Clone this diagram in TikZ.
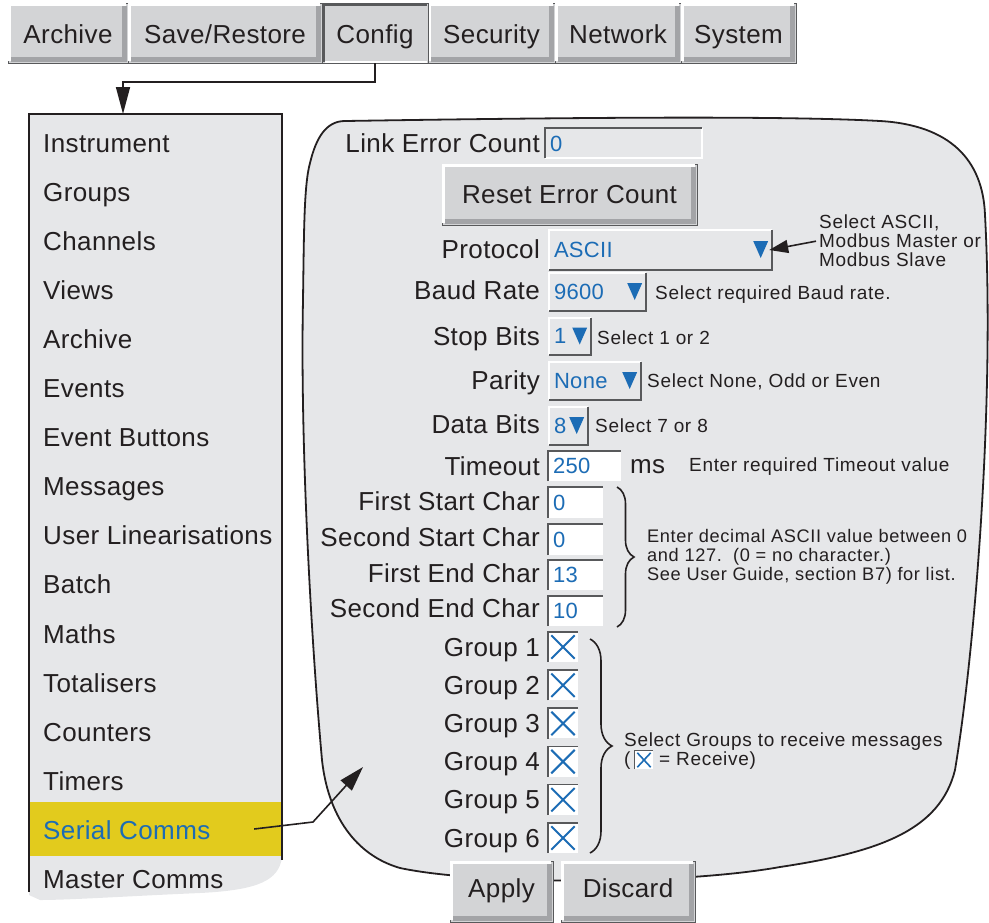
\documentclass[tikz,border=0pt]{standalone}
\usepackage{fontspec}
\setmainfont[LetterSpace=1.5]{Liberation Sans}
\newfontfamily\notefont[LetterSpace=3.5]{Liberation Sans}
\usetikzlibrary{positioning,calc,arrows.meta,decorations.pathreplacing}

\definecolor{panelgrey}{HTML}{E6E7E9}
\definecolor{tabgrey}{HTML}{D3D4D6}
\definecolor{shadegrey}{HTML}{A3A4A7}
\definecolor{edgegrey}{HTML}{58595B}
\definecolor{ink}{HTML}{231F20}
\definecolor{valblue}{HTML}{1C6CB5}
\definecolor{selyellow}{HTML}{E2CB1D}

\begin{document}
\begin{tikzpicture}
    [
    x=1pt, y=-1pt,
    bigtxt/.style={font=\fontsize{26}{30}\selectfont, text=ink, inner sep=0pt},
    valtxt/.style={font=\fontsize{22}{26}\selectfont, text=valblue, inner sep=0pt, anchor=base west},
    notetxt/.style={font=\notefont\fontsize{19}{19}\selectfont, text=ink, inner sep=0pt,
      anchor=base west, align=left},
    raised/.style={draw=edgegrey, line width=0.8pt, fill=tabgrey, inner sep=0pt,
      font=\fontsize{26}{30}\selectfont, text=ink, text height=20pt, text depth=0pt},
    hilite/.style={white, line width=3pt},
    lowlite/.style={shadegrey, line width=5pt},
    dropbox/.style={fill=panelgrey, inner sep=0pt},
    entrybox/.style={fill=white, inner sep=0pt},
    crossmark/.style={valblue, line width=2pt},
    pointer/.style={ink, line width=1.6pt},
    curly/.style={ink, line width=1.6pt, decorate, decoration={brace, amplitude=#1}}
    ]
    \useasboundingbox (0,0) rectangle (989,922);

    % Tabs along the top
    \foreach \n/\xa/\xb/\txt in {tArchive/8/128/Archive, tSave/128/322/{Save/Restore},
        tSecurity/428/555/Security, tNetwork/555/681/Network, tSystem/681/796/System} {
      \node[raised, minimum width={(\xb-\xa)*1pt}, minimum height=60pt] (\n) at ({(\xa+\xb)/2}, 33) {\txt};
      \draw[hilite] ([shift={(2,-2)}]\n.south west) |- ([shift={(-2,2)}]\n.north east);
      \draw[lowlite] ([shift={(3.5,-3.5)}]\n.south west) -| ([shift={(-3.5,3.5)}]\n.north east);
    }
    % the pressed tab
    \node[raised, minimum width=106pt, minimum height=60pt] (tConfig) at (375,33) {Config};
    \draw[edgegrey, line width=3pt] ([shift={(1.5,-1.5)}]tConfig.south west) |- ([shift={(-1,1.5)}]tConfig.north east);
    \draw[white, line width=2pt] ([shift={(3,-1.5)}]tConfig.south west) -- ([shift={(-1,-1.5)}]tConfig.south east);

    % Panel outline
    \draw[ink, line width=1.8pt, fill=panelgrey]
      (345,121) .. controls (600,117) and (790,116) .. (880,121)
      .. controls (950,125) and (983,160) .. (985,215)
      .. controls (995,400) and (975,650) .. (955,770)
      .. controls (940,830) and (880,852) .. (780,867)
      .. controls (680,885) and (480,885) .. (400,868)
      .. controls (355,855) and (328,815) .. (322,760)
      .. controls (312,650) and (300,450) .. (303,300)
      .. controls (304,230) and (304,185) .. (310,163)
      .. controls (316,138) and (326,121) .. (345,121) -- cycle;

    % Menu on the left
    \fill[panelgrey] (29,114) -- (282,114) -- (282,858)
      .. controls (278,880) and (260,890) .. (200,893)
      .. controls (130,896) and (70,900) .. (40,900) -- (29,895) -- cycle;
    \node[fill=selyellow, minimum width=251pt, minimum height=54pt, inner sep=0pt] (mSel) at (155.5,829) {};
    \draw[ink, line width=2pt] (29,892) -- (29,114) -- (282,114) -- (282,860);
    \coordinate (menuTop) at (123,114);
    \foreach \txt/\col [count=\i] in {Instrument/ink, Groups/ink, Channels/ink, Views/ink, Archive/ink,
        Events/ink, Event Buttons/ink, Messages/ink, User Linearisations/ink, Batch/ink, Maths/ink,
        Totalisers/ink, Counters/ink, Timers/ink, Serial Comms/valblue, Master Comms/ink} {
      \node[bigtxt, text=\col, anchor=base west] (m\i) at (43, {152+(\i-1)*49.1}) {\txt};
    }

    % Config tab opens the menu
    \coordinate (cBend) at (375,82);
    \draw[pointer, -{Triangle[length=27pt, width=14pt]}] (tConfig.south) -- (cBend) -| (menuTop);

    % Labels of the panel
    \foreach \n/\y/\txt in {lLink/152/Link Error Count, lProto/258/Protocol, lBaud/299/Baud Rate,
        lStop/345/Stop Bits, lParity/389/Parity, lData/433/Data Bits, lTime/475/Timeout,
        lFSC/510/First Start Char, lSSC/546/Second Start Char, lFEC/582/First End Char,
        lSEC/617/Second End Char} {
      \node[bigtxt, anchor=base east] (\n) at (540,\y) {\txt};
    }

    % Link error count field and reset button
    \node[dropbox, minimum width=157pt, minimum height=30pt] (fLink) at (623.5,143) {};
    \draw[white, line width=1.5pt] (fLink.south west) -| (fLink.north east);
    \draw[edgegrey, line width=1.5pt] (fLink.south west) |- (fLink.north east);
    \node[valtxt] (vLink) at ($(fLink.west)+(5,8)$) {0};

    \node[raised, minimum width=255pt, minimum height=61pt, text depth=3pt] (bReset) at (569.5,194.5) {Reset Error Count};
    \draw[hilite] ([shift={(2,-2)}]bReset.south west) |- ([shift={(-2,2)}]bReset.north east);
    \draw[lowlite] ([shift={(3.5,-3.5)}]bReset.south west) -| ([shift={(-3.5,3.5)}]bReset.north east);

    % Drop down fields
    \foreach \n/\xa/\ya/\xb/\yb/\val in {fProto/549/230/772/270/ASCII, fBaud/549/273/646/311/9600,
        fStop/549/318/591/355/1, fParity/549/362/641/400/None, fData/549/407/588/445/8} {
      \node[dropbox, minimum width={(\xb-\xa)*1pt}, minimum height={(\yb-\ya)*1pt}] (\n)
        at ({(\xa+\xb)/2}, {(\ya+\yb)/2}) {};
      \draw[white, line width=2pt] (\n.south west) |- (\n.north east);
      \draw[edgegrey, line width=1.5pt] (\n.south west) -| (\n.north east);
      \node[valtxt] (v\n) at ($(\n.west)+(5,7)$) {\val};
      \fill[valblue] ($(\n.east)+(-19,-9)$) -- ++(15,0) -- ++(-7.5,17) -- cycle;
    }

    % Entry fields
    \foreach \n/\xa/\ya/\xb/\yb/\val in {fTime/548/451/621/481/250, fFSC/548/487/603/518/0,
        fSSC/548/524/603/555/0, fFEC/548/560/603/590/13, fSEC/548/596/603/626/10} {
      \node[entrybox, minimum width={(\xb-\xa)*1pt}, minimum height={(\yb-\ya)*1pt}] (\n)
        at ({(\xa+\xb)/2}, {(\ya+\yb)/2}) {};
      \draw[edgegrey, line width=1.5pt] (\n.south west) |- (\n.north east);
      \node[valtxt] (v\n) at ($(\n.west)+(5,7.5)$) {\val};
    }
    \node[bigtxt, anchor=base west] (ms) at (630,473) {ms};

    % Group check boxes
    \foreach \i in {1,...,6} {
      \node[bigtxt, anchor=base east] (lG\i) at (540, {656+(\i-1)*38.2}) {Group \i};
      \node[entrybox, minimum width=30pt, minimum height=30pt] (cG\i) at (563, {647+(\i-1)*38.2}) {};
      \draw[edgegrey, line width=1.5pt] (cG\i.south west) |- (cG\i.north east);
      \draw[crossmark] ([shift={(3.5,-3.5)}]cG\i.south west) -- ([shift={(-3.5,3.5)}]cG\i.north east);
      \draw[crossmark] ([shift={(3.5,3.5)}]cG\i.north west) -- ([shift={(-3.5,-3.5)}]cG\i.south east);
    }

    % Notes
    \node[notetxt, anchor=north west] (nProto) at (819,215) {Select ASCII,\\Modbus Master or\\Modbus Slave};
    \node[notetxt] (nBaud) at (655,299) {Select required Baud rate.};
    \node[notetxt] (nStop) at (597,344) {Select 1 or 2};
    \node[notetxt] (nParity) at (647,387) {Select None, Odd or Even};
    \node[notetxt] (nData) at (595,432) {Select 7 or 8};
    \node[notetxt] (nTime) at (689,471) {Enter required Timeout value};
    \node[notetxt, anchor=north west, font=\notefont\fontsize{18.2}{19}\selectfont] (nChar) at (647,529)
      {Enter decimal ASCII value between 0\\and 127.\ \ (0 = no character.)\\See User Guide, section B7) for list.};
    \node[notetxt] (nGroup) at (624,746) {Select Groups to receive messages};
    \node[notetxt] (rOpen) at (624,765) {(};
    \node[entrybox, minimum width=18pt, minimum height=18pt] (rBox) at (643.5,760) {};
    \draw[edgegrey, line width=1.2pt] (rBox.south west) |- (rBox.north east);
    \draw[crossmark, line width=1.6pt] ([shift={(3,-2)}]rBox.south west) -- ([shift={(-2,2)}]rBox.north east);
    \draw[crossmark, line width=1.6pt] ([shift={(3,2)}]rBox.north west) -- ([shift={(-2,-2)}]rBox.south east);
    \node[notetxt] (rText) at (659,765) {= Receive)};

    % Braces
    \draw[curly=17pt] (617,487) -- (617,627);
    \draw[curly=22pt] (590,639) -- (590,853);

    % Arrows to the panel
    \draw[pointer, -{Triangle[length=19pt, width=13pt]}] ([xshift=-3pt]nProto.west) -- ([xshift=-3pt]fProto.east);
    \coordinate (sBend) at (313,822);
    \coordinate (sTip) at (363,767);
    \draw[pointer, -{Triangle[length=25pt, width=15pt]}] ([xshift=-27pt]mSel.east) -- (sBend) -- (sTip);

    % Apply and Discard
    \foreach \n/\xa/\xb/\txt in {bApply/450/553/Apply, bDiscard/561/695/Discard} {
      \node[raised, minimum width={(\xb-\xa)*1pt}, minimum height=61pt, text depth=9pt] (\n)
        at ({(\xa+\xb)/2}, 891.5) {\txt};
      \draw[hilite] ([shift={(2,-2)}]\n.south west) |- ([shift={(-2,2)}]\n.north east);
      \draw[lowlite] ([shift={(3.5,-3.5)}]\n.south west) -| ([shift={(-3.5,3.5)}]\n.north east);
    }
\end{tikzpicture}
\end{document}
